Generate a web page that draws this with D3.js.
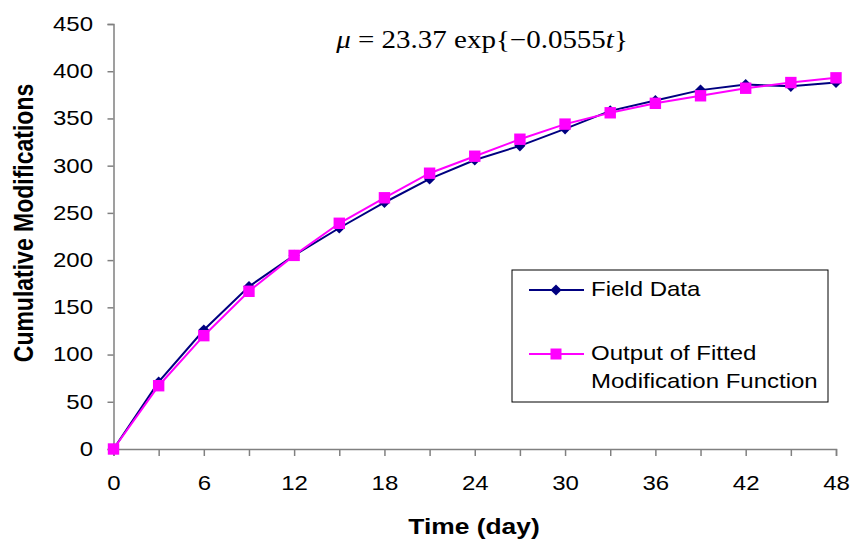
<!DOCTYPE html>
<html>
<head>
<meta charset="utf-8">
<script src="https://cdn.jsdelivr.net/npm/d3@7"></script>
<style>
  html, body { margin: 0; padding: 0; background: #fff; }
  svg { display: block; }
</style>
</head>
<body>
<svg id="chart" width="852" height="545"></svg>
<script>
const days = [0, 3, 6, 9, 12, 15, 18, 21, 24, 27, 30, 33, 36, 39, 42, 45, 48];
const fieldData = [0, 71, 126, 172, 205, 234, 261, 286, 306, 321, 339, 358, 369, 380, 386, 384, 388];
const fittedOutput = [0, 67, 120, 167, 205, 239, 266, 292, 310, 328, 344, 356, 366, 374, 382, 388, 393];
const xTickLabels = [0, 6, 12, 18, 24, 30, 36, 42, 48];
const xMinorTicks = [0, 3, 6, 9, 12, 15, 18, 21, 24, 27, 30, 33, 36, 39, 42, 45, 48];
const yTickLabels = [0, 50, 100, 150, 200, 250, 300, 350, 400, 450];
const seriesNames = ["Field Data", "Output of Fitted", "Modification Function"];

const svg = d3.select("#chart");
const x = d3.scaleLinear().domain([0, 48]).range([113.5, 836]);
const y = d3.scaleLinear().domain([0, 450]).range([449, 24]);
const axisColor = "#808080";
const font = "'Liberation Sans', Arial, sans-serif";
const SX = 1.2; // horizontal stretch of the reference text

// Y axis
const yAxis = svg.append("g").attr("transform", `translate(${x(0)},0)`)
  .call(d3.axisLeft(y).tickValues(yTickLabels).tickSize(6).tickFormat(d3.format("d")));
yAxis.select(".domain").attr("stroke", axisColor).attr("stroke-width", 1.5);
yAxis.selectAll(".tick line").attr("stroke", axisColor).attr("stroke-width", 1.5);
yAxis.selectAll(".tick text").attr("font-family", font).attr("font-size", 20).attr("fill", "#000")
  .attr("x", 0).attr("transform", `translate(-20.5,0) scale(${SX},1)`);

// X axis: ticks every 3, labels every 6
const xAxis = svg.append("g").attr("transform", `translate(0,${y(0)})`)
  .call(d3.axisBottom(x).tickValues(xMinorTicks).tickSize(7).tickPadding(20)
    .tickFormat(d => xTickLabels.includes(d) ? d : ""));
xAxis.select(".domain").attr("stroke", axisColor).attr("stroke-width", 1.5);
xAxis.selectAll(".tick line").attr("stroke", axisColor).attr("stroke-width", 1.5);
xAxis.selectAll(".tick text").attr("font-family", font).attr("font-size", 20).attr("fill", "#000")
  .attr("transform", `scale(${SX},1)`);

function stretchedText(g, tx, ty, txt, opts) {
  const t = g.append("text").attr("transform", `translate(${tx},${ty}) scale(${SX},1)`)
    .attr("font-family", opts.family || font).attr("font-size", opts.size)
    .attr("text-anchor", opts.anchor || "start");
  if (opts.bold) t.attr("font-weight", "bold");
  t.text(txt);
  return t;
}

// Axis titles
stretchedText(svg, 474, 534, "Time (day)", {size: 22, bold: true, anchor: "middle"});
svg.append("text").attr("transform", `translate(33,223) rotate(-90) scale(1,${SX})`).attr("text-anchor", "middle")
  .attr("font-family", font).attr("font-weight", "bold").attr("font-size", 23).text("Cumulative Modifications");

// Formula
const f = svg.append("text").attr("transform", "translate(482,48) scale(1.16,1)").attr("text-anchor", "middle")
  .attr("font-family", "'Liberation Serif', 'Times New Roman', serif").attr("font-size", 25);
f.append("tspan").attr("font-style", "italic").text("μ");
f.append("tspan").text(" = 23.37 exp{−0.0555");
f.append("tspan").attr("font-style", "italic").text("t");
f.append("tspan").text("}");

const line = d3.line().x((d, i) => x(days[i])).y(d => y(d));
const navy = "#000080", magenta = "#FF00FF";
const diamond = d3.symbol().type(d3.symbolSquare).size(62);
const square = d3.symbol().type(d3.symbolSquare).size(130);

// Field data
svg.append("path").datum(fieldData).attr("d", line).attr("fill", "none")
  .attr("stroke", navy).attr("stroke-width", 2);
svg.append("g").selectAll("path").data(fieldData).join("path")
  .attr("d", diamond).attr("transform", (d, i) => `translate(${x(days[i])},${y(d)}) rotate(45)`).attr("fill", navy);

// Fitted
svg.append("path").datum(fittedOutput).attr("d", line).attr("fill", "none")
  .attr("stroke", magenta).attr("stroke-width", 2);
svg.append("g").selectAll("path").data(fittedOutput).join("path")
  .attr("d", square).attr("transform", (d, i) => `translate(${x(days[i])},${y(d)})`).attr("fill", magenta);

// Legend
const lg = svg.append("g");
lg.append("rect").attr("x", 512).attr("y", 270).attr("width", 316).attr("height", 132)
  .attr("fill", "#fff").attr("stroke", "#000").attr("stroke-width", 1);
lg.append("line").attr("x1", 529).attr("x2", 584).attr("y1", 290).attr("y2", 290).attr("stroke", navy).attr("stroke-width", 2);
lg.append("path").attr("d", diamond).attr("transform", "translate(556,290) rotate(45)").attr("fill", navy);
lg.append("line").attr("x1", 529).attr("x2", 584).attr("y1", 354).attr("y2", 354).attr("stroke", magenta).attr("stroke-width", 2);
lg.append("path").attr("d", d3.symbol().type(d3.symbolSquare).size(121)).attr("transform", "translate(556,354)").attr("fill", magenta);
stretchedText(lg, 591, 296, seriesNames[0], {size: 20});
stretchedText(lg, 591, 360, seriesNames[1], {size: 20});
stretchedText(lg, 591, 388, seriesNames[2], {size: 20});
</script>
</body>
</html>
